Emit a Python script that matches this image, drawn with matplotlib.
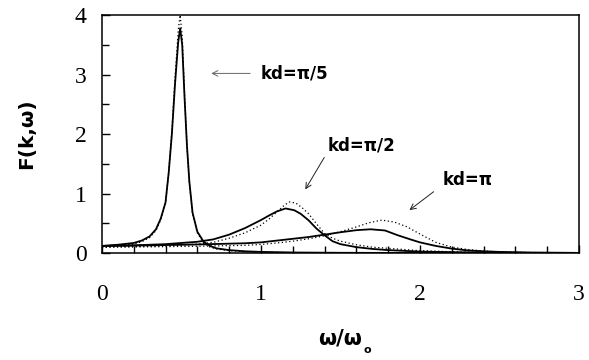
import numpy as np
import matplotlib
matplotlib.use("Agg")
import matplotlib.pyplot as plt
from matplotlib.ticker import MultipleLocator

# --- spectral function F(k, w) read at three wave numbers ---
# kd = pi/5
w_pi5 = [0, 0.1, 0.2, 0.25, 0.3, 0.34, 0.37, 0.40, 0.42, 0.44, 0.46, 0.48, 0.492,
         0.505, 0.52, 0.535, 0.55, 0.57, 0.60, 0.64, 0.68, 0.72, 0.8, 0.9, 1.0,
         1.2, 1.5, 2.0, 3.0]
F_pi5 = [0.12, 0.14, 0.17, 0.21, 0.28, 0.40, 0.58, 0.85, 1.35, 2.0, 2.85, 3.55, 3.78,
         3.5, 2.6, 1.8, 1.2, 0.68, 0.36, 0.19, 0.12, 0.08, 0.05, 0.03, 0.02,
         0.01, 0.005, 0.002, 0]
F_pi5_dot = [0.10, 0.12, 0.15, 0.19, 0.26, 0.38, 0.56, 0.84, 1.35, 2.05, 2.95, 3.75, 4.0,
             3.65, 2.65, 1.8, 1.18, 0.66, 0.34, 0.17, 0.10, 0.07, 0.04, 0.025, 0.015,
             0.008, 0.004, 0.002, 0]

# kd = pi/2
w_pi2 = [0, 0.2, 0.4, 0.6, 0.7, 0.8, 0.9, 1.0, 1.05, 1.1, 1.155, 1.21, 1.25, 1.3,
         1.35, 1.4, 1.45, 1.5, 1.6, 1.7, 1.8, 2.0, 2.3, 2.6, 3.0]
F_pi2 = [0.12, 0.13, 0.15, 0.19, 0.23, 0.31, 0.42, 0.555, 0.63, 0.70, 0.75, 0.72, 0.66, 0.55,
         0.41, 0.30, 0.20, 0.15, 0.10, 0.07, 0.05, 0.025, 0.012, 0.006, 0.003]
w_pi2_dot = [0, 0.2, 0.4, 0.6, 0.7, 0.8, 0.9, 1.0, 1.05, 1.1, 1.15, 1.18, 1.22, 1.26,
             1.3, 1.35, 1.4, 1.45, 1.5, 1.6, 1.7, 1.8, 2.0, 2.3, 2.6, 3.0]
F_pi2_dot = [0.10, 0.11, 0.12, 0.15, 0.18, 0.25, 0.34, 0.47, 0.57, 0.69, 0.81, 0.86, 0.84, 0.76,
             0.66, 0.49, 0.33, 0.25, 0.20, 0.14, 0.10, 0.08, 0.04, 0.015, 0.006, 0.002]

# kd = pi
w_pi = [0, 0.3, 0.6, 0.9, 1.0, 1.1, 1.2, 1.3, 1.4, 1.5, 1.6, 1.69, 1.78, 1.86, 1.94,
        2.0, 2.1, 2.2, 2.3, 2.4, 2.5, 2.7, 3.0]
F_pi = [0.12, 0.13, 0.145, 0.165, 0.18, 0.21, 0.24, 0.27, 0.31, 0.35, 0.385, 0.40, 0.38, 0.30, 0.23,
        0.18, 0.12, 0.075, 0.045, 0.03, 0.02, 0.008, 0.003]
w_pi_dot = [0, 0.3, 0.6, 0.9, 1.0, 1.1, 1.2, 1.3, 1.4, 1.5, 1.6, 1.68, 1.76, 1.84, 1.92,
            2.0, 2.05, 2.1, 2.2, 2.3, 2.4, 2.5, 2.7, 3.0]
F_pi_dot = [0.10, 0.105, 0.115, 0.13, 0.145, 0.17, 0.2, 0.24, 0.29, 0.36, 0.44, 0.51, 0.555, 0.52, 0.44,
            0.32, 0.25, 0.18, 0.10, 0.06, 0.035, 0.02, 0.008, 0.003]

labels = ["kd=π/5", "kd=π/2", "kd=π"]

fig = plt.figure(figsize=(5.89, 3.6), dpi=100)
ax = fig.add_axes([0.173, 0.297, 0.810, 0.661])

solid_kw = dict(color="black", lw=1.3, solid_joinstyle="round")
dot_kw = dict(color="black", lw=0.9, ls=(0, (1, 2)))

ax.plot(w_pi5, F_pi5_dot, **dot_kw)
ax.plot(w_pi2_dot, F_pi2_dot, **dot_kw)
ax.plot(w_pi_dot, F_pi_dot, **dot_kw)
ax.plot(w_pi5, F_pi5, **solid_kw)
ax.plot(w_pi2, F_pi2, **solid_kw)
ax.plot(w_pi, F_pi, **solid_kw)

ax.set_xlim(0, 3)
ax.set_ylim(0, 4)
ax.xaxis.set_major_locator(MultipleLocator(1))
ax.xaxis.set_minor_locator(MultipleLocator(0.2))
ax.yaxis.set_major_locator(MultipleLocator(1))
ax.yaxis.set_minor_locator(MultipleLocator(0.5))
ax.tick_params(which="both", direction="in", top=False, right=False, width=1.0)
ax.tick_params(which="major", length=6)
ax.tick_params(which="minor", length=5)
ax.tick_params(axis="x", which="major", pad=22)
ax.tick_params(axis="y", which="major", pad=11)
for lab in ax.get_xticklabels() + ax.get_yticklabels():
    lab.set_fontfamily("Liberation Serif")
    lab.set_fontsize(17)
for sp in ax.spines.values():
    sp.set_linewidth(1.1)

ax.set_ylabel("F(k,ω)", fontsize=14.5, fontweight="bold", labelpad=28)

# x label with small subscript o
xl = fig.text(0.578, 0.042, "ω/ω", fontsize=15, fontweight="bold", ha="center", va="baseline")
ax.annotate("o", xy=(1, 0), xycoords=xl, xytext=(1, -3), textcoords="offset points",
            fontsize=8, fontweight="bold", ha="left", va="baseline", annotation_clip=False)

# curve annotations
txt_kw = dict(fontsize=12, fontweight="bold", va="center", ha="left")
ax.annotate("", xy=(0.67, 3.02), xytext=(0.95, 3.02),
            arrowprops=dict(arrowstyle="->", color="#666666", lw=0.7))
ax.text(1.0, 3.02, labels[0], **txt_kw)
ax.annotate("", xy=(1.27, 1.03), xytext=(1.407, 1.647),
            arrowprops=dict(arrowstyle="->", color="#222222", lw=0.7))
ax.text(1.418, 1.815, labels[1], **txt_kw)
ax.annotate("", xy=(1.92, 0.694), xytext=(2.10, 1.06),
            arrowprops=dict(arrowstyle="->", color="#222222", lw=0.7))
ax.text(2.143, 1.227, labels[2], **txt_kw)

fig.savefig("out.png", dpi=100)
